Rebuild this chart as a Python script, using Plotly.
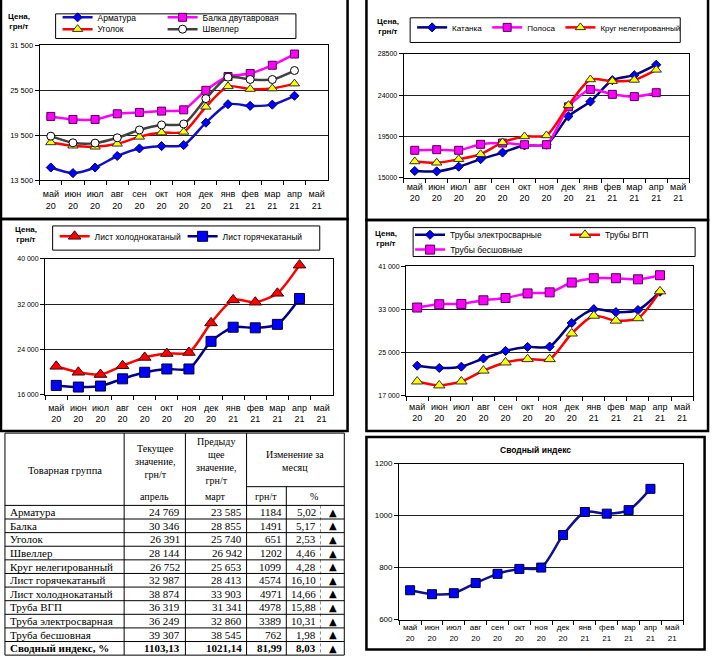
import plotly.graph_objects as go

W, H = 720, 663
FONT = "Liberation Sans, Arial, sans-serif"
SERIF = "Liberation Serif, Times New Roman, serif"

def px(x):
    return x / W

def py(y):
    return 1 - y / H

# ---------------- data ----------------
months = ["май", "июн", "июл", "авг", "сен", "окт", "ноя", "дек", "янв", "фев", "мар", "апр", "май"]
years = ["20", "20", "20", "20", "20", "20", "20", "20", "21", "21", "21", "21", "21"]
cats = [m + "<br>" + y for m, y in zip(months, years)]
data_cats = cats[:12]

# chart 1
armatura = [15180, 14430, 15180, 16720, 17730, 18040, 18180, 21170, 23640, 23420, 23585, 24769]
balka = [22010, 21610, 21610, 22360, 22540, 22720, 22890, 25500, 27350, 27740, 28855, 30346]
ugolok = [18530, 18090, 17950, 18350, 19280, 19850, 19940, 23290, 26020, 25670, 25740, 26391]
shveller = [19370, 18480, 18440, 19150, 20200, 20870, 21000, 24390, 27260, 26950, 26942, 28144]
# chart 2
katanka = [15720, 15680, 16190, 17010, 17730, 18520, 18590, 21680, 23290, 25630, 26170, 27310]
polosa = [17980, 18050, 17980, 18630, 18770, 18590, 18590, 22720, 24620, 24080, 23830, 24260]
krug = [16760, 16620, 17010, 17550, 18840, 19490, 19600, 22900, 25700, 25520, 25653, 26752]
# chart 3
list_hol = [21000, 19950, 19550, 21110, 22570, 23260, 23440, 28670, 32740, 32330, 33903, 38874]
list_gor = [17630, 17340, 17510, 18790, 19950, 20530, 20530, 25410, 27910, 27800, 28413, 32987]
# chart 4
truby_es = [22540, 22120, 22360, 23880, 25280, 26020, 26080, 30460, 33020, 32470, 32860, 36249]
truby_vgp = [19620, 18890, 19620, 21630, 23150, 23760, 23760, 28510, 31800, 30890, 31341, 36319]
truby_bs = [33320, 33930, 33990, 34660, 35090, 35940, 36130, 37950, 38750, 38750, 38545, 39307]
# chart 5
svod_index = [712.7, 697.5, 701.3, 740.5, 775.9, 794.9, 800.0, 925.3, 1013.9, 1007.6, 1021.14, 1103.13]

# table
tbl_names = ["Арматура", "Балка", "Уголок", "Швеллер", "Круг нелегированный",
             "Лист горячекатаный", "Лист холоднокатаный", "Труба ВГП",
             "Труба электросварная", "Труба бесшовная"]
tbl_cur = [24769, 30346, 26391, 28144, 26752, 32987, 38874, 36319, 36249, 39307]
tbl_prev = [23585, 28855, 25740, 26942, 25653, 28413, 33903, 31341, 32860, 38545]
tbl_chg = [1184, 1491, 651, 1202, 1099, 4574, 4971, 4978, 3389, 762]
tbl_pct = [5.02, 5.17, 2.53, 4.46, 4.28, 16.10, 14.66, 15.88, 10.31, 1.98]
idx_name = "Сводный индекс, %"
idx_cur, idx_prev, idx_chg, idx_pct = 1103.13, 1021.14, 81.99, 8.03

# ---------------- figure ----------------
fig = go.Figure()
SM = 0.7


def add(x_ax, y_ax, y, name, lcolor, symbol, mcolor, mline, msize, legend, lw=2.5, show=True, lwidth=None):
    fig.add_trace(go.Scatter(
        x=data_cats, y=y, name=name, xaxis=x_ax, yaxis=y_ax,
        mode="lines+markers",
        line=dict(color=lcolor, width=lw, shape="spline", smoothing=SM),
        marker=dict(symbol=symbol, color=mcolor, size=msize, line=dict(color=mline, width=1)),
        legend=legend, showlegend=show, hoverinfo="skip", legendwidth=lwidth))

# chart 1
add("x", "y", armatura, "Арматура", "#1010c0", "diamond", "#0000ff", "#000060", 7, "legend")
add("x", "y", balka, "Балка двутавровая", "#ff00ff", "square", "#ff00ff", "#500050", 8, "legend", lwidth=100)
add("x", "y", ugolok, "Уголок", "#ff0000", "triangle-up", "#ffff00", "#303030", 9, "legend2")
add("x", "y", shveller, "Швеллер", "#404040", "circle", "#ffffff", "#000000", 8, "legend2", lwidth=100)
# chart 2
add("x2", "y2", katanka, "Катанка", "#000080", "diamond", "#0000ff", "#000040", 7, "legend3")
add("x2", "y2", polosa, "Полоса", "#ff00ff", "square", "#ff00ff", "#500050", 8, "legend3")
add("x2", "y2", krug, "Круг нелегированный", "#ff0000", "triangle-up", "#ffff00", "#303030", 9, "legend3")
# chart 3
add("x3", "y3", list_hol, "Лист холоднокатаный", "#ff0000", "triangle-up", "#ff0000", "#400000", 11, "legend4")
add("x3", "y3", list_gor, "Лист горячекатаный", "#000080", "square", "#0000ff", "#000030", 10, "legend4", lwidth=100)
# chart 4
add("x4", "y4", truby_es, "Трубы электросварные", "#000080", "diamond", "#0000ff", "#000040", 7, "legend5")
add("x4", "y4", truby_vgp, "Трубы ВГП", "#ff0000", "triangle-up", "#ffff00", "#303030", 10, "legend5")
add("x4", "y4", truby_bs, "Трубы бесшовные", "#ff00ff", "square", "#ff00ff", "#500050", 9, "legend6")
# chart 5
add("x5", "y5", svod_index, "Сводный индекс", "#101090", "square", "#0000ff", "#000020", 9, "legend", show=False)


def xax(x0, x1, anchor, fs, standoff=0):
    return dict(domain=[px(x0), px(x1)], anchor=anchor, type="category",
                categoryorder="array", categoryarray=cats, range=[-0.5, 12.5],
                tickson="boundaries", ticks="outside", ticklen=4, tickcolor="black",
                tickangle=0, ticklabelstandoff=standoff,
                showline=True, linecolor="black", linewidth=1.2, mirror=True,
                showgrid=False, tickfont=dict(family=FONT, size=fs, color="black"),
                fixedrange=True)


def yax(y0, y1, anchor, rng, dt, fmt, fs):
    return dict(domain=[py(y1), py(y0)], anchor=anchor, range=rng, dtick=dt, tick0=rng[0],
                tickformat=fmt, ticks="outside", ticklen=4, tickcolor="black",
                showline=True, linecolor="black", linewidth=1.2, mirror=True,
                showgrid=True, gridcolor="#202020", gridwidth=1, zeroline=False,
                tickfont=dict(family=FONT, size=fs, color="black"), fixedrange=True)


lc = dict(orientation="h", bgcolor="rgba(0,0,0,0)", borderwidth=0, xanchor="left",
          yanchor="middle", entrywidthmode="pixels", tracegroupgap=0, itemsizing="trace",
          itemclick=False, itemdoubleclick=False)

shapes = []
annotations = []


def rect(x0, y0, x1, y1, w=1, color="black", dash="solid"):
    shapes.append(dict(type="rect", xref="paper", yref="paper", x0=px(x0), x1=px(x1),
                       y0=py(y1), y1=py(y0), line=dict(color=color, width=w, dash=dash),
                       fillcolor="rgba(0,0,0,0)", layer="above"))


def line(x0, y0, x1, y1, w=1, color="black", dash="solid"):
    shapes.append(dict(type="line", xref="paper", yref="paper", x0=px(x0), x1=px(x1),
                       y0=py(y0), y1=py(y1), line=dict(color=color, width=w, dash=dash),
                       layer="above"))


def text(x, y, t, size, family=FONT, xanchor="center", bold=False):
    annotations.append(dict(xref="paper", yref="paper", x=px(x), y=py(y), text=("<b>" + t + "</b>") if bold else t,
                            showarrow=False, xanchor=xanchor, yanchor="middle",
                            font=dict(family=family, size=size, color="black"), align="center"))


# panel frames
rect(1, -6, 350, 218, w=2.5)
rect(369, -6, 713, 219, w=2.5)
rect(1, 218, 350, 433, w=2.5)
rect(369, 219, 713, 433, w=2.5)
rect(369, 439, 709.5, 654.5, w=2.5)

# legend boxes
rect(56, 10, 298, 35)
rect(413, 14, 685, 39)
rect(53, 225, 322, 249.5)
rect(416, 226.7, 700, 256)

# y-axis titles
text(19, 18, "Цена,<br>грн/т", 8, bold=True)
text(391, 23.3, "Цена,<br>грн/т", 8, bold=True)
text(26, 233.3, "Цена,<br>грн/т", 8, bold=True)
text(389, 237.3, "Цена,<br>грн/т", 8, bold=True)
text(539, 452, "Сводный индекс", 8.5, bold=True)

# ---------------- table ----------------
T_L, C1, C2, C3, C4, C5D, T_R = 5, 125, 186.7, 248.3, 288.3, 322.7, 346.7
T_TOP, H_SPLIT, H_BOT, ROW_H = 435, 489.3, 508.3, 13.8
n_rows = len(tbl_names) + 1
T_BOT = H_BOT + ROW_H * n_rows
for xv in (T_L, C1, C2, C3, T_R):
    line(xv, T_TOP, xv, T_BOT)
line(C4, H_SPLIT, C4, T_BOT)
line(C5D, H_BOT, C5D, T_BOT, color="#888888", dash="dot")
line(T_L, T_TOP, T_R, T_TOP)
line(C3, H_SPLIT, T_R, H_SPLIT)
for i in range(n_rows + 1):
    yy = H_BOT + ROW_H * i
    line(T_L, yy, T_R, yy)

text(65, 472.7, "Товарная группа", 10.5, family=SERIF)
text(156, 463.3, "Текущее<br>значение,<br>грн/т", 10, family=SERIF)
text(156, 499.3, "апрель", 10, family=SERIF)
text(217.5, 463.2, "Предыду<br>щее<br>значение,<br>грн/т", 10, family=SERIF)
text(217.5, 499.3, "март", 10, family=SERIF)
text(297.5, 463.3, "Изменение за<br>месяц", 10, family=SERIF)
text(268.3, 499.3, "грн/т", 10, family=SERIF)
text(316, 499.3, "%", 10, family=SERIF)


def f_int(v):
    return "{:,}".format(v).replace(",", " ")


def f_dec(v):
    return "{:.2f}".format(v).replace(".", ",")


rows = [(n, f_int(c), f_int(p), str(g), f_dec(q), False)
        for n, c, p, g, q in zip(tbl_names, tbl_cur, tbl_prev, tbl_chg, tbl_pct)]
rows.append((idx_name, f_dec(idx_cur), f_dec(idx_prev), f_dec(idx_chg), f_dec(idx_pct), True))
for i, (n, c, p, g, q, b) in enumerate(rows):
    yc = H_BOT + ROW_H * (i + 0.5)
    text(8, yc, n, 11, family=SERIF, xanchor="left", bold=b)
    text(183.5, yc, c, 11, family=SERIF, xanchor="right", bold=b)
    text(246, yc, p, 11, family=SERIF, xanchor="right", bold=b)
    text(286, yc, g, 11, family=SERIF, xanchor="right", bold=b)
    text(320, yc, q, 11, family=SERIF, xanchor="right", bold=b)
    text(335, yc, "▲", 10, family="DejaVu Sans")

fig.update_layout(
    width=W, height=H, margin=dict(l=0, r=0, t=0, b=0),
    paper_bgcolor="white", plot_bgcolor="white", separators=", ",
    font=dict(family=FONT, color="black"),
    xaxis=xax(40, 330, "y", 9, 5), yaxis=yax(42, 178.5, "x", [13500, 31500], 6000, ",", 7.5),
    xaxis2=xax(406.6, 694, "y2", 9, 0), yaxis2=yax(50.5, 176, "x2", [15000, 28500], 4500, "d", 7),
    xaxis3=xax(45.5, 335, "y3", 9, 4), yaxis3=yax(258.3, 396, "x3", [16000, 40000], 8000, ",", 7),
    xaxis4=xax(409, 698, "y4", 9, 2), yaxis4=yax(265.7, 397, "x4", [17000, 41000], 8000, ",", 7),
    xaxis5=xax(402, 688, "y5", 8, 0), yaxis5=yax(466, 624, "x5", [600, 1200], 200, "d", 8),
    legend=dict(**lc, x=px(58), y=py(13.5), entrywidth=60, font=dict(family=FONT, size=8.5, color="black")),
    legend2=dict(**lc, x=px(58), y=py(25.5), entrywidth=60, font=dict(family=FONT, size=8.5, color="black")),
    legend3=dict(**lc, x=px(415), y=py(23.7), entrywidth=0, font=dict(family=FONT, size=8, color="black")),
    legend4=dict(**lc, x=px(55), y=py(235.5), entrywidth=83, font=dict(family=FONT, size=8.5, color="black")),
    legend5=dict(**lc, x=px(413), y=py(234), entrywidth=110, font=dict(family=FONT, size=8.5, color="black")),
    legend6=dict(**lc, x=px(413), y=py(249), entrywidth=110, font=dict(family=FONT, size=8.5, color="black")),
    shapes=shapes, annotations=annotations, hovermode=False,
)

fig.write_html("out.html", config={"displayModeBar": False},
               post_script="document.body.style.margin='0px';")
